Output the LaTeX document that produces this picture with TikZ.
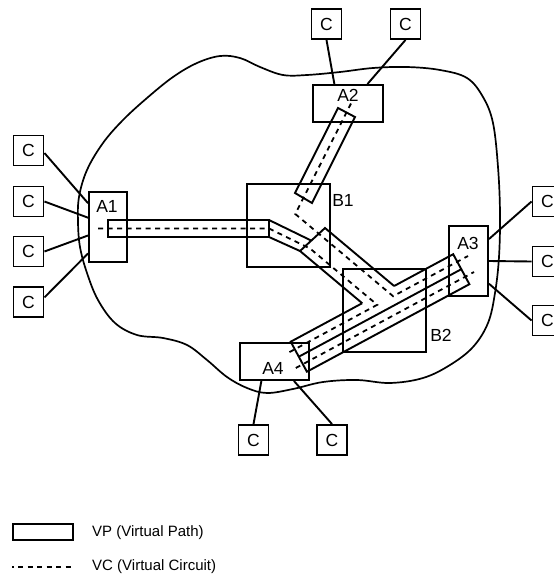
\documentclass[tikz,border=0pt]{standalone}
\usepackage{fontspec}
\setmainfont{Liberation Sans}
\tikzset{
    box/.style={draw, line width=1.9pt, inner sep=0pt},
    cbox/.style={box, minimum size=30pt, font=\fontsize{17.5}{20}\selectfont},
    lbl/.style={inner sep=0pt, font=\fontsize{17.5}{20}\selectfont},
    lgd/.style={inner sep=0pt, anchor=west, font=\fontsize{15}{18}\selectfont},
    link/.style={line width=1.9pt},
    vp/.style={line width=1.9pt, line join=miter},
    vc/.style={line width=1.8pt, dash pattern=on 5pt off 4.5pt},
}
\begin{document}
\begin{tikzpicture}[x=1pt, y=-1pt]
    \useasboundingbox (0,0) rectangle (554,579);

    \draw[line width=1.7pt] plot[smooth cycle, tension=0.6] coordinates {
        (220,56) (197,63) (173,77) (147,98) (123,120) (103,143) (87,170)
        (79,197) (78,222) (80,247) (87,273) (98,300) (115,323) (137,335)
        (163,338) (187,345) (207,360) (227,377) (247,388) (267,393) (293,389)
        (323,382) (357,380) (390,383) (423,378) (450,365) (473,347) (488,323)
        (495,293) (499,257) (500,213) (498,167) (493,123) (483,97) (467,78)
        (440,70) (407,67) (373,68) (340,72) (307,75) (283,75) (260,67) (240,58)};

    \node[box, minimum width=38pt, minimum height=70pt] (A1) at (108,227) {};
    \node[box, minimum width=70pt, minimum height=37pt] (A2) at (348,103.5) {};
    \node[box, minimum width=39pt, minimum height=70pt] (A3) at (468.5,261) {};
    \node[box, minimum width=69pt, minimum height=37pt] (A4) at (274.5,361.5) {};
    \node[box, minimum size=83pt] (B1) at (288.5,225.5) {};
    \node[box, minimum size=83pt] (B2) at (384.5,310.5) {};

    \foreach \n/\x/\y in {A1/107/206, A2/348/95, A3/468/243, A4/273/368,
            B1/343/200, B2/441/335}
        \node[lbl] (\n lbl) at (\x,\y) {\n};

    \foreach \n/\x/\y in {cl1/28.5/150.5, cl2/28.5/201.5, cl3/28.5/251.5,
            cl4/28.5/302, cr1/547.5/201.5, cr2/547.5/261.5, cr3/547.5/320.5,
            ct1/326.5/24, ct2/405.5/24, cb1/253.5/440, cb2/332/440}
        \node[cbox] (\n) at (\x,\y) {C};

    \foreach \s/\t in {cl1.-9/A1.130, cl2.east/A1.155, cl3.east/A1.203,
            cl4.16/A1.233, A3.47/cr1.west, A3.east/cr2.west, A3.-48/cr3.west,
            ct1.south/A2.125, ct2.south/A2.45, A4.236/cb1.north, A4.-45/cb2.north}
        \draw[link] (\s) -- (\t);

    \draw[vp] (338,108) -- (355,117) -- (312,203) -- (295,193) -- cycle;
    \draw[vp] (108,220) rectangle (269,237);
    \draw[vp] (269,220) -- (311.3,240.6) (269,237) -- (300,251);
    \draw[vp] (362.2,303.2) -- (300,251) -- (325,228) -- (394.1,286);
    \draw[vp] (362.2,303.2) -- (290.7,341.7) -- (306.9,371.7) -- (469.4,284.2)
        -- (453.2,254.2) -- (394.1,286);
    \draw[vp] (298.8,356.7) -- (461.3,269.2);

    \draw[vc] (98,228.5) -- (269,228.5) -- (310.2,248.6) -- (377.2,304.8) -- (286,354);
    \draw[vc] (351,103.5) -- (295.3,214) -- (393.1,296.2) -- (468,256);
    \draw[vc] (295.8,368) -- (474,272);

    \draw[vp] (13,524) rectangle (73,540);
    \node[lgd] (vptxt) at (92,532.5) {VP (Virtual Path)};
    \draw[vc, dash phase=3.5pt] (12,567) -- (73,567);
    \node[lgd] (vctxt) at (92,567) {VC (Virtual Circuit)};
\end{tikzpicture}
\end{document}
